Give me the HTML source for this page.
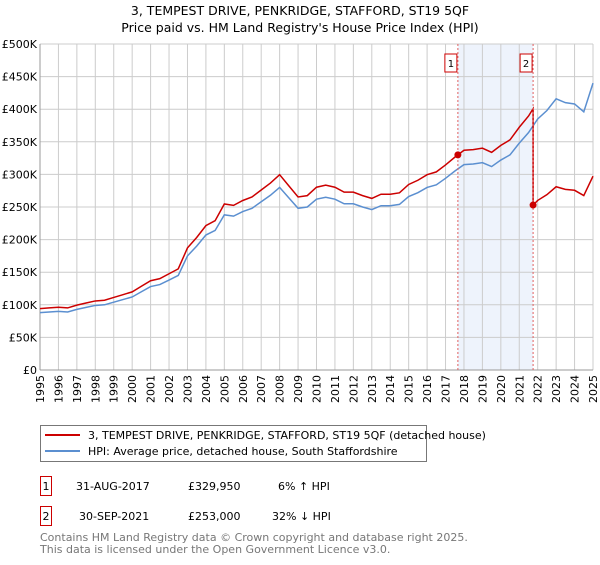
<!DOCTYPE html>
<html><head><meta charset="utf-8"><style>
body{margin:0;background:#fff;font-family:"Liberation Sans","DejaVu Sans",sans-serif;}
svg text{font-family:"DejaVu Sans","Liberation Sans",sans-serif;}
</style></head><body>
<svg id="chart" width="600" height="560" viewBox="0 0 600 560" xmlns="http://www.w3.org/2000/svg">
<text x="300" y="15" font-size="12.5" text-anchor="middle" fill="#000">3, TEMPEST DRIVE, PENKRIDGE, STAFFORD, ST19 5QF</text>
<text x="300" y="32" font-size="12.5" text-anchor="middle" fill="#000">Price paid vs. HM Land Registry's House Price Index (HPI)</text>
<g id="plot"></g>
<g>
<rect x="40.5" y="425.5" width="386" height="36" fill="#fff" stroke="#777"/>
<line x1="45" y1="435" x2="80" y2="435" stroke="#cc0000" stroke-width="2"/>
<text x="88" y="439" font-size="11">3, TEMPEST DRIVE, PENKRIDGE, STAFFORD, ST19 5QF (detached house)</text>
<line x1="45" y1="451" x2="80" y2="451" stroke="#5b8fd0" stroke-width="2"/>
<text x="88" y="455" font-size="11">HPI: Average price, detached house, South Staffordshire</text>
</g>
<g font-size="11">
<rect x="40.5" y="476.5" width="11" height="19" fill="#fff" stroke="#cc0000"/>
<text x="46" y="490" text-anchor="middle">1</text>
<text x="76" y="490">31-AUG-2017</text><text x="188" y="490">£329,950</text><text x="278" y="490">6% ↑ HPI</text>
<rect x="40.5" y="506.5" width="11" height="19" fill="#fff" stroke="#cc0000"/>
<text x="46" y="520" text-anchor="middle">2</text>
<text x="79" y="520">30-SEP-2021</text><text x="188" y="520">£253,000</text><text x="272" y="520">32% ↓ HPI</text>
</g>
<text x="40" y="541" font-size="11" fill="#777">Contains HM Land Registry data © Crown copyright and database right 2025.</text>
<text x="40" y="553" font-size="11" fill="#777">This data is licensed under the Open Government Licence v3.0.</text>
</svg>
<script>
const years = [1995,1995.5,1996,1996.5,1997,1997.5,1998,1998.5,1999,1999.5,2000,2000.5,2001,2001.5,2002,2002.5,2003,2003.5,2004,2004.5,2005,2005.5,2006,2006.5,2007,2007.5,2008,2008.5,2009,2009.5,2010,2010.5,2011,2011.5,2012,2012.5,2013,2013.5,2014,2014.5,2015,2015.5,2016,2016.5,2017,2017.5,2018,2018.5,2019,2019.5,2020,2020.5,2021,2021.5,2022,2022.5,2023,2023.5,2024,2024.5,2025];
const hpi = [88,89,90,89,93,96,99,100,104,108,112,120,128,131,138,145,175,190,207,214,238,236,243,248,258,268,280,264,248,250,262,265,262,255,255,250,246,252,252,254,266,272,280,284,294,305,315,316,318,312,322,330,348,364,385,398,416,410,408,396,440];
const saleDates = [2017.67,2021.75];
const salePrices = [329950,253000];
const saleLabels = ["1","2"];
const yTicks = [0,50000,100000,150000,200000,250000,300000,350000,400000,450000,500000];
const yTickLabels = ["£0","£50K","£100K","£150K","£200K","£250K","£300K","£350K","£400K","£450K","£500K"];
const xTicks = [1995,1996,1997,1998,1999,2000,2001,2002,2003,2004,2005,2006,2007,2008,2009,2010,2011,2012,2013,2014,2015,2016,2017,2018,2019,2020,2021,2022,2023,2024,2025];

const NS="http://www.w3.org/2000/svg";
const L=40,R=593,T=44,B=370;
const xs=y=>L+(y-1995)/(2025-1995)*(R-L);
const ys=v=>B-v/500000*(B-T);
const g=document.getElementById('plot');
function mk(t,a,p){const e=document.createElementNS(NS,t);for(const k in a)e.setAttribute(k,a[k]);(p||g).appendChild(e);return e;}
function hpiAt(t){for(let i=0;i<years.length-1;i++){if(t<=years[i+1]){const f=(t-years[i])/(years[i+1]-years[i]);return (hpi[i]+f*(hpi[i+1]-hpi[i]))*1000;}}return hpi[hpi.length-1]*1000;}
// shaded
const sh=mk('rect',{x:xs(saleDates[0]),y:T,width:xs(saleDates[1])-xs(saleDates[0]),height:B-T,fill:'#eef3fc'});


// grid
xTicks.forEach((t,i)=>{
 const l=mk('line',{x1:xs(t),x2:xs(t),y1:T,y2:B,stroke:'#ccc','stroke-width':1});
 
 
 const tx=mk('text',{x:0,y:0,'font-size':11,'text-anchor':'end',transform:`translate(${xs(t)+4},${B+5}) rotate(-90)`});
 tx.textContent=t;
 
 
});
yTicks.forEach((v,i)=>{
 const l=mk('line',{x1:L,x2:R,y1:ys(v),y2:ys(v),stroke:'#ccc','stroke-width':1});
 
 
 const tx=mk('text',{x:L-3,y:ys(v)+4,'font-size':11,'text-anchor':'end'});
 tx.textContent=yTickLabels[i];
 
 
});
mk('line',{x1:L,x2:L,y1:T,y2:B,stroke:'#999'});
mk('line',{x1:L,x2:R,y1:B,y2:B,stroke:'#999'});
// hpi line
const hp=mk('polyline',{points:years.map((y,i)=>xs(y)+','+ys(hpi[i]*1000)).join(' '),fill:'none',stroke:'#5b8fd0','stroke-width':1.5});


// price line indexed to hpi from sales
const r1=salePrices[0]/hpiAt(saleDates[0]), r2=salePrices[1]/hpiAt(saleDates[1]);
let pts=[];
years.forEach((y,i)=>{ if(y<saleDates[1]) pts.push([y,hpi[i]*1000*r1]); });
pts.push([saleDates[1],hpiAt(saleDates[1])*r1]);
pts.push([saleDates[1],salePrices[1]]);
years.forEach((y,i)=>{ if(y>saleDates[1]) pts.push([y,hpi[i]*1000*r2]); });
const pl=mk('polyline',{points:pts.map(p=>xs(p[0])+','+ys(p[1])).join(' '),fill:'none',stroke:'#cc0000','stroke-width':1.5});


saleDates.forEach((d,i)=>{
 const vl=mk('line',{x1:xs(d),x2:xs(d),y1:T,y2:B,stroke:'#e06060','stroke-dasharray':'2,2'});
 
 
 const c=mk('circle',{cx:xs(d),cy:ys(salePrices[i]),r:3.5,fill:'#cc0000'});
 
 
 const b=mk('rect',{x:xs(d)-13,y:54,width:12,height:18,fill:'#fff',stroke:'#cc0000'});
 
 
 const t=mk('text',{x:xs(d)-7,y:67,'font-size':10,'text-anchor':'middle'});
 t.textContent=saleLabels[i];
 
 
});
</script>
</body></html>
